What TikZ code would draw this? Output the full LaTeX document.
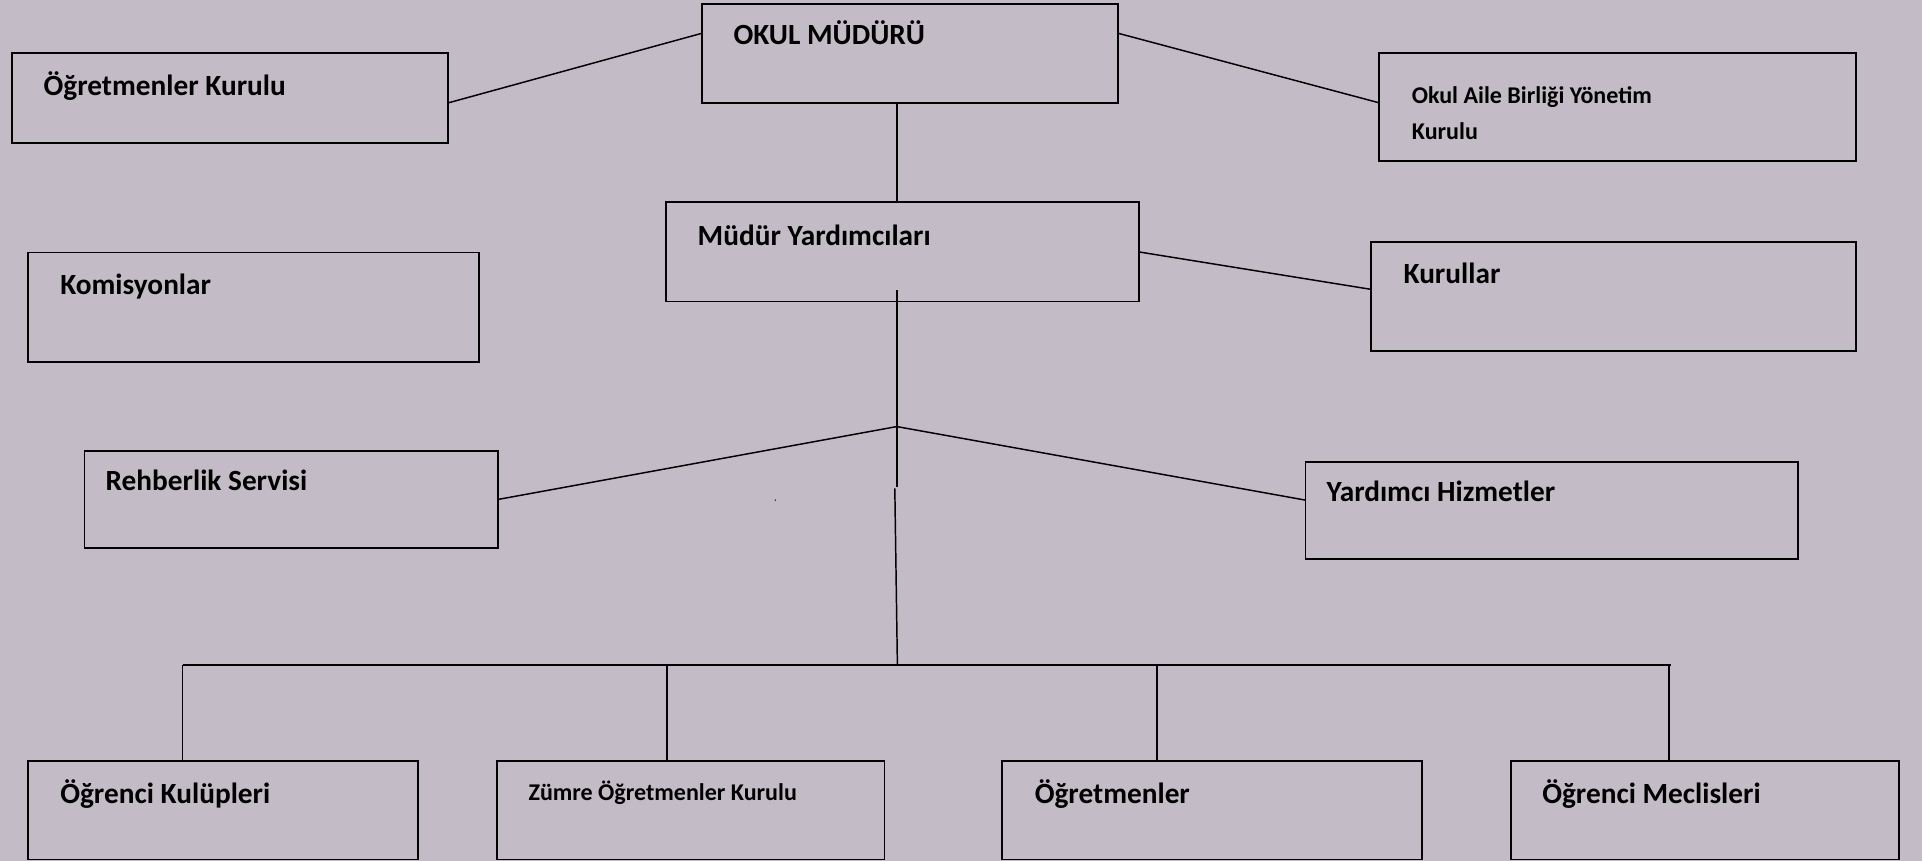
\documentclass[tikz,border=0pt]{standalone}
\usepackage{fontspec}
\setmainfont{Carlito}
\usetikzlibrary{positioning}
\definecolor{zemin}{RGB}{195,188,199}

\tikzset{
  kutu/.style 2 args={draw, line width=1.5pt, inner sep=0pt, outer sep=0pt, anchor=north west, minimum width=#1, minimum height=#2},
  yazi/.style={anchor=base west, inner sep=0pt, font=\fontsize{23.9}{28}\selectfont\bfseries},
  kucuk/.style={anchor=base west, inner sep=0pt, align=left, font=\fontsize{19.6}{28.9}\selectfont\bfseries},
  cizgi/.style={line width=1.2pt}
}

\begin{document}
\begin{tikzpicture}[x=1pt, y=-1pt]
  \useasboundingbox (0,0) rectangle (1568,702);
  \fill[zemin] (0,0) rectangle (1568,702);

  \node[kutu={340pt}{81pt}] (mudur) at (572.4,3.3) {};
  \node[kutu={355.6pt}{72.9pt}] (ogrkurul) at (10,43.5) {};
  \node[kutu={389pt}{87.9pt}] (oab) at (1125,43.5) {};
  \node[kutu={386pt}{81pt}] (yardimci) at (543,165) {};
  \node[kutu={368pt}{89pt}] (komisyon) at (23,206) {};
  \node[kutu={395.8pt}{89.2pt}] (kurullar) at (1118.2,197.2) {};
  \node[kutu={337pt}{79pt}] (rehberlik) at (69,368) {};
  \node[kutu={402pt}{79pt}] (hizmetler) at (1065,377) {};
  \node[kutu={318pt}{80.6pt}] (kulup) at (23,620.6) {};
  \node[kutu={316pt}{80.6pt}] (zumre) at (405.6,620.6) {};
  \node[kutu={342.8pt}{80.6pt}] (ogretmen) at (817.6,620.6) {};
  \node[kutu={316.3pt}{80.6pt}] (meclis) at (1232.7,620.6) {};

  \node[yazi] (mudur-y) at (598.2,36.6) {OKUL MÜDÜRÜ};
  \node[yazi] (ogrkurul-y) at (35.4,77.5) {Öğretmenler Kurulu};
  \node[kucuk] (oab-y) at (1151.6,113.7) {Okul Aile Birliği Yönetim\\Kurulu};
  \node[yazi] (yardimci-y) at (569,200) {Müdür Yardımcıları};
  \node[yazi] (komisyon-y) at (49,240) {Komisyonlar};
  \node[yazi] (kurullar-y) at (1144.8,231.1) {Kurullar};
  \node[yazi] (rehberlik-y) at (86,400) {Rehberlik Servisi};
  \node[yazi] (hizmetler-y) at (1082,409) {Yardımcı Hizmetler};
  \node[yazi] (kulup-y) at (49,655.4) {Öğrenci Kulüpleri};
  \node[kucuk] (zumre-y) at (431,653.2) {Zümre Öğretmenler Kurulu};
  \node[yazi] (ogretmen-y) at (844,655.4) {Öğretmenler};
  \node[yazi] (meclis-y) at (1258,655.4) {Öğrenci Meclisleri};

  \coordinate (eksen1) at (731.6,236.6);
  \coordinate (catal) at (731.6,348);
  \coordinate (eksen2) at (731.6,397.6);
  \coordinate (eksen3) at (730,398.4);
  \coordinate (bus-orta) at (732.1,542.5);
  \coordinate (bus-sol) at (149,542.5);
  \coordinate (bus-sag) at (1363.5,542.5);
  \coordinate (d2) at (544,542.5);
  \coordinate (d3) at (944,542.5);
  \coordinate (d4) at (1361.4,542.5);

  \draw[cizgi] ([yshift=-4pt]ogrkurul.east) -- ([yshift=16.6pt]mudur.west);
  \draw[cizgi] ([yshift=16.6pt]mudur.east) -- ([yshift=3.6pt]oab.west);
  \draw[cizgi] (mudur.south -| catal) -- (yardimci.north -| catal);
  \draw[cizgi] (yardimci.east) -- ([yshift=5.8pt]kurullar.west);
  \draw[cizgi] (eksen1) -- (eksen2);
  \draw[cizgi] (eksen3) -- (bus-orta);
  \draw[cizgi] (catal) -- (rehberlik.east);
  \draw[cizgi] (catal) -- ([yshift=8.5pt]hizmetler.west);
  \draw[cizgi] (bus-sol) -- (bus-sag);
  \draw[cizgi] (bus-sol) -- (bus-sol |- kulup.north);
  \draw[cizgi] (d2) -- (d2 |- zumre.north);
  \draw[cizgi] (d3) -- (d3 |- ogretmen.north);
  \draw[cizgi] (d4) -- (d4 |- meclis.north);
  \fill (632.5,408) circle (0.6pt);
\end{tikzpicture}
\end{document}
